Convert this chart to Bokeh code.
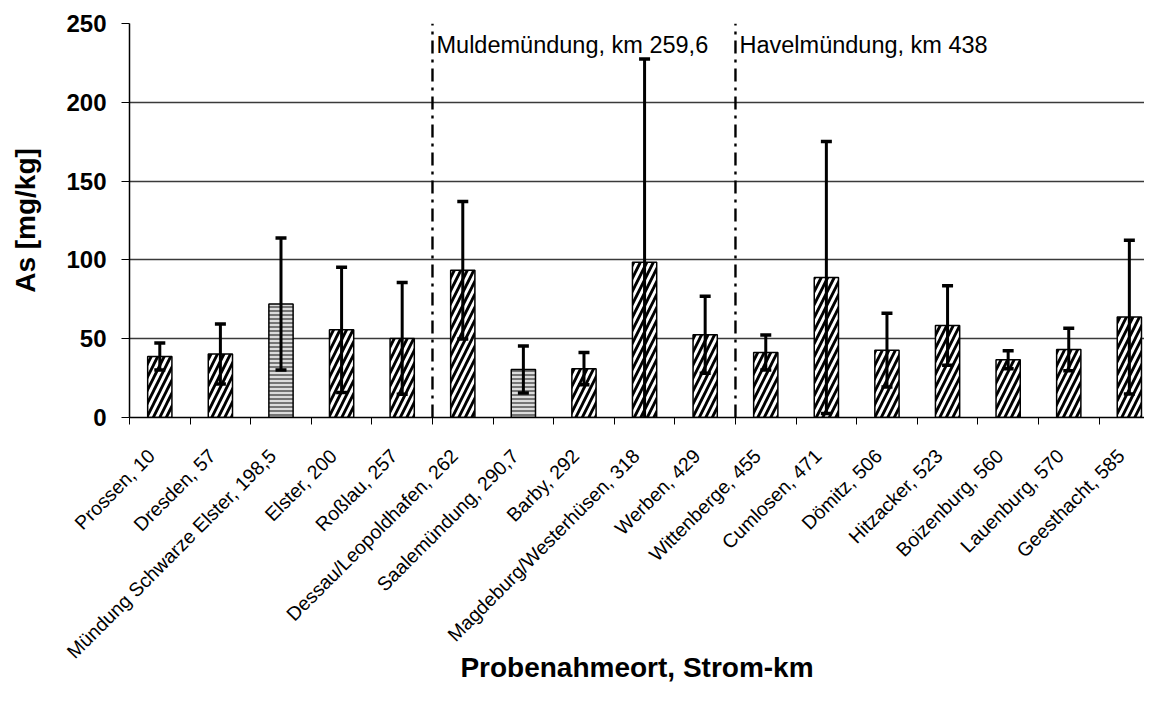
import math
from bokeh.plotting import figure
from bokeh.models import Range1d, FixedTicker, ColumnDataSource
from bokeh.core.properties import value
from bokeh.embed import file_html
from bokeh.resources import INLINE

# ---- data -------------------------------------------------------------
stations = [
    "Prossen, 10", "Dresden, 57", "Mündung Schwarze Elster, 198,5", "Elster, 200",
    "Roßlau, 257", "Dessau/Leopoldhafen, 262", "Saalemündung, 290,7", "Barby, 292",
    "Magdeburg/Westerhüsen, 318", "Werben, 429", "Wittenberge, 455", "Cumlosen, 471",
    "Dömitz, 506", "Hitzacker, 523", "Boizenburg, 560", "Lauenburg, 570", "Geesthacht, 585",
]
as_mean = [38.7, 40.3, 72.0, 55.6, 50.2, 93.4, 30.4, 31.0, 98.5, 52.5,
           41.2, 88.9, 42.7, 58.4, 36.7, 43.2, 63.7]
as_err = [8.6, 19.0, 41.9, 39.7, 35.4, 43.6, 14.9, 10.2, 128.9, 24.5,
          11.1, 86.3, 23.4, 25.2, 5.7, 13.5, 48.8]
is_tributary = [False, False, True, False, False, False, True, False, False, False,
                False, False, False, False, False, False, False]
mouth_labels = ["Muldemündung, km 259,6", "Havelmündung, km 438"]
mouth_after_index = [4, 9]
y_ticks = [0, 50, 100, 150, 200, 250]

FONT = "Liberation Sans"
LABEL_SHIFT = 0.14   # rotated labels end slightly left of the bar centre

xs = list(range(len(stations)))
lo = [m - e for m, e in zip(as_mean, as_err)]
hi = [m + e for m, e in zip(as_mean, as_err)]

main_src = ColumnDataSource(dict(
    x=[x for x, t in zip(xs, is_tributary) if not t],
    top=[v for v, t in zip(as_mean, is_tributary) if not t]))
trib_src = ColumnDataSource(dict(
    x=[x for x, t in zip(xs, is_tributary) if t],
    top=[v for v, t in zip(as_mean, is_tributary) if t]))
err_src = ColumnDataSource(dict(x=xs, lo=lo, hi=hi))

p = figure(width=1144, height=686,
           x_range=Range1d(-0.5, 16.25), y_range=Range1d(y_ticks[0], y_ticks[-1]),
           output_backend="svg", toolbar_location=None,
           min_border_left=129, min_border_top=23, min_border_bottom=269,
           min_border_right=0)
p.outline_line_color = None
p.background_fill_color = "white"
p.border_fill_color = "white"

# grid
p.xgrid.visible = False
p.ygrid.ticker = FixedTicker(ticks=y_ticks)
p.ygrid.grid_line_color = "#3a3a3a"
p.ygrid.grid_line_width = 1.3

# bars
p.vbar(x="x", top="top", width=0.4, source=main_src, bottom=0,
       fill_color="white", line_color="black", line_width=1.5,
       hatch_pattern="/", hatch_color="black", hatch_weight=2.8, hatch_scale=13)
p.vbar(x="x", top="top", width=0.4, source=trib_src, bottom=0,
       fill_color="#dcdcdc", line_color="black", line_width=1.5,
       hatch_pattern="-", hatch_color="#5a5a5a", hatch_weight=1.6, hatch_scale=4)

# error bars
p.segment(x0="x", y0="lo", x1="x", y1="hi", source=err_src,
          line_color="black", line_width=3)
p.scatter(x="x", y="hi", source=err_src, marker="dash", size=11,
          line_color="black", line_width=3.5)
p.scatter(x="x", y="lo", source=err_src, marker="dash", size=11,
          line_color="black", line_width=3.5)

# river mouth separators
mx = [i + 0.5 for i in mouth_after_index]
p.segment(x0=mx, y0=[y_ticks[0]] * len(mx), x1=mx, y1=[y_ticks[-1]] * len(mx),
          line_color="black", line_width=2.4, line_dash="13 6 3 6")
p.text(x=mx, y=[y_ticks[-1]] * len(mx), text=mouth_labels,
       x_offset=4, y_offset=8, text_baseline="top", text_align="left",
       text_font=value(FONT), text_font_size="23.5px", text_color="black")

# y axis
ya = p.yaxis[0]
ya.ticker = FixedTicker(ticks=y_ticks)
ya.axis_label = "As [mg/kg]"
ya.axis_label_text_font = FONT
ya.axis_label_text_font_size = "28px"
ya.axis_label_text_font_style = "bold"
ya.axis_label_text_color = "black"
ya.axis_label_standoff = 22
ya.major_label_text_font = FONT
ya.major_label_text_font_size = "24px"
ya.major_label_text_font_style = "bold"
ya.major_label_text_color = "black"
ya.major_tick_out = 8
ya.major_tick_in = 0
ya.minor_tick_out = 0
ya.minor_tick_in = 0
ya.major_label_standoff = 15
ya.axis_line_color = "black"
ya.axis_line_width = 1.5
ya.major_tick_line_color = "black"

# x axis
label_pos = [i - LABEL_SHIFT for i in xs]
xa = p.xaxis[0]
xa.ticker = FixedTicker(ticks=label_pos, minor_ticks=[i - 0.5 for i in range(len(xs) + 1)])
xa.major_label_overrides = {lp: s for lp, s in zip(label_pos, stations)}
xa.major_label_orientation = math.pi / 4
xa.major_label_text_font = FONT
xa.major_label_text_font_size = "19.5px"
xa.major_label_text_color = "black"
xa.major_label_standoff = 28
xa.major_tick_out = 0
xa.major_tick_in = 0
xa.minor_tick_out = 7
xa.minor_tick_in = 0
xa.minor_tick_line_color = "black"
xa.axis_line_color = "black"
xa.axis_line_width = 1.5
xa.axis_label = "Probenahmeort, Strom-km"
xa.axis_label_text_font = FONT
xa.axis_label_text_font_size = "28px"
xa.axis_label_text_font_style = "bold"
xa.axis_label_text_color = "black"
xa.axis_label_standoff = -21

open("out.html", "w").write(file_html(p, INLINE))
